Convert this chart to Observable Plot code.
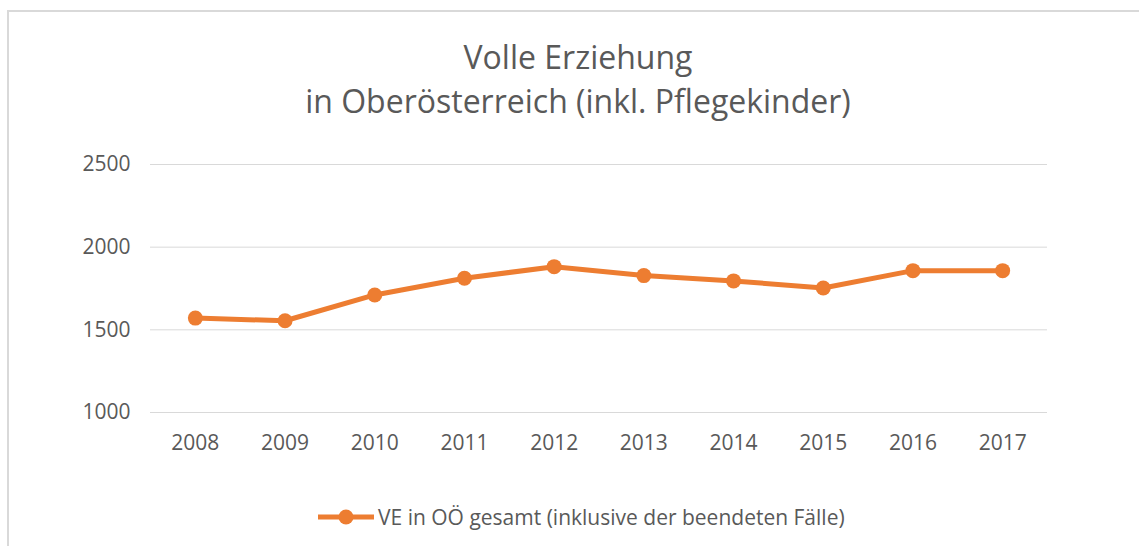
<!DOCTYPE html>
<html>
<head>
<meta charset="utf-8">
<script src="https://cdn.jsdelivr.net/npm/d3@7"></script>
<script src="https://cdn.jsdelivr.net/npm/@observablehq/plot@0.6"></script>
<style>
  html, body { margin: 0; padding: 0; background: #fff; }
  body { width: 1139px; height: 546px; position: relative; overflow: hidden; font-family: "Open Sans", sans-serif; }
  #frame { position: absolute; left: 7px; top: 10px; width: 1200px; height: 600px; border: 2px solid #d9d9d9; box-sizing: border-box; }
  #title { position: absolute; left: 0; top: 35px; width: 1156px; text-align: center; font-size: 32px; line-height: 44px; color: #595959; }
  #chart { position: absolute; left: 0; top: 130px; }
  #legend { position: absolute; left: 318px; top: 503px; height: 28px; display: flex; align-items: center; font-size: 21px; color: #595959; white-space: nowrap; }
  #legend svg { margin-right: 4px; }
</style>
</head>
<body>
<div id="frame"></div>
<div id="title">Volle Erziehung<br>in Oberösterreich (inkl. Pflegekinder)</div>
<div id="chart"></div>
<div id="legend"></div>
<script>
const years = ["2008", "2009", "2010", "2011", "2012", "2013", "2014", "2015", "2016", "2017"];
const values = [1571, 1555, 1711, 1812, 1882, 1828, 1796, 1753, 1858, 1858];
const yTicks = [1000, 1500, 2000, 2500];
const seriesName = "VE in OÖ gesamt (inklusive der beendeten Fälle)";
const seriesColor = "#ED7D31";

const data = years.map((y, i) => ({year: y, value: values[i]}));

const chart = Plot.plot({
  width: 1139,
  height: 330,
  marginLeft: 150,
  marginRight: 92,
  marginTop: 34,
  marginBottom: 48,
  style: {fontFamily: "'Open Sans', sans-serif", fontSize: "21px", color: "#595959", background: "transparent", overflow: "visible"},
  x: {type: "point", domain: years, padding: 0.5, round: false, label: null},
  y: {domain: [1000, 2500], ticks: yTicks, label: null},
  marks: [
    Plot.gridY(yTicks, {stroke: "#d9d9d9", strokeOpacity: 1, strokeWidth: 1}),
    Plot.axisY(yTicks, {tickSize: 0, tickPadding: 20, tickFormat: d3.format("d"), label: null, fill: "#595959"}),
    Plot.axisX({tickSize: 0, tickPadding: 23, label: null, fill: "#595959"}),
    Plot.line(data, {x: "year", y: "value", stroke: seriesColor, strokeWidth: 5}),
    Plot.dot(data, {x: "year", y: "value", r: 7.5, fill: seriesColor, stroke: "none"})
  ]
});
document.getElementById("chart").appendChild(chart);

const legend = document.getElementById("legend");
const ns = "http://www.w3.org/2000/svg";
const sw = document.createElementNS(ns, "svg");
sw.setAttribute("width", 56); sw.setAttribute("height", 20);
const ln = document.createElementNS(ns, "line");
ln.setAttribute("x1", 0); ln.setAttribute("x2", 56); ln.setAttribute("y1", 10); ln.setAttribute("y2", 10);
ln.setAttribute("stroke", seriesColor); ln.setAttribute("stroke-width", 5);
const c = document.createElementNS(ns, "circle");
c.setAttribute("cx", 28); c.setAttribute("cy", 10); c.setAttribute("r", 7.5); c.setAttribute("fill", seriesColor);
sw.appendChild(ln); sw.appendChild(c);
legend.appendChild(sw);
const t = document.createElement("span");
t.textContent = seriesName;
legend.appendChild(t);
</script>
</body>
</html>
